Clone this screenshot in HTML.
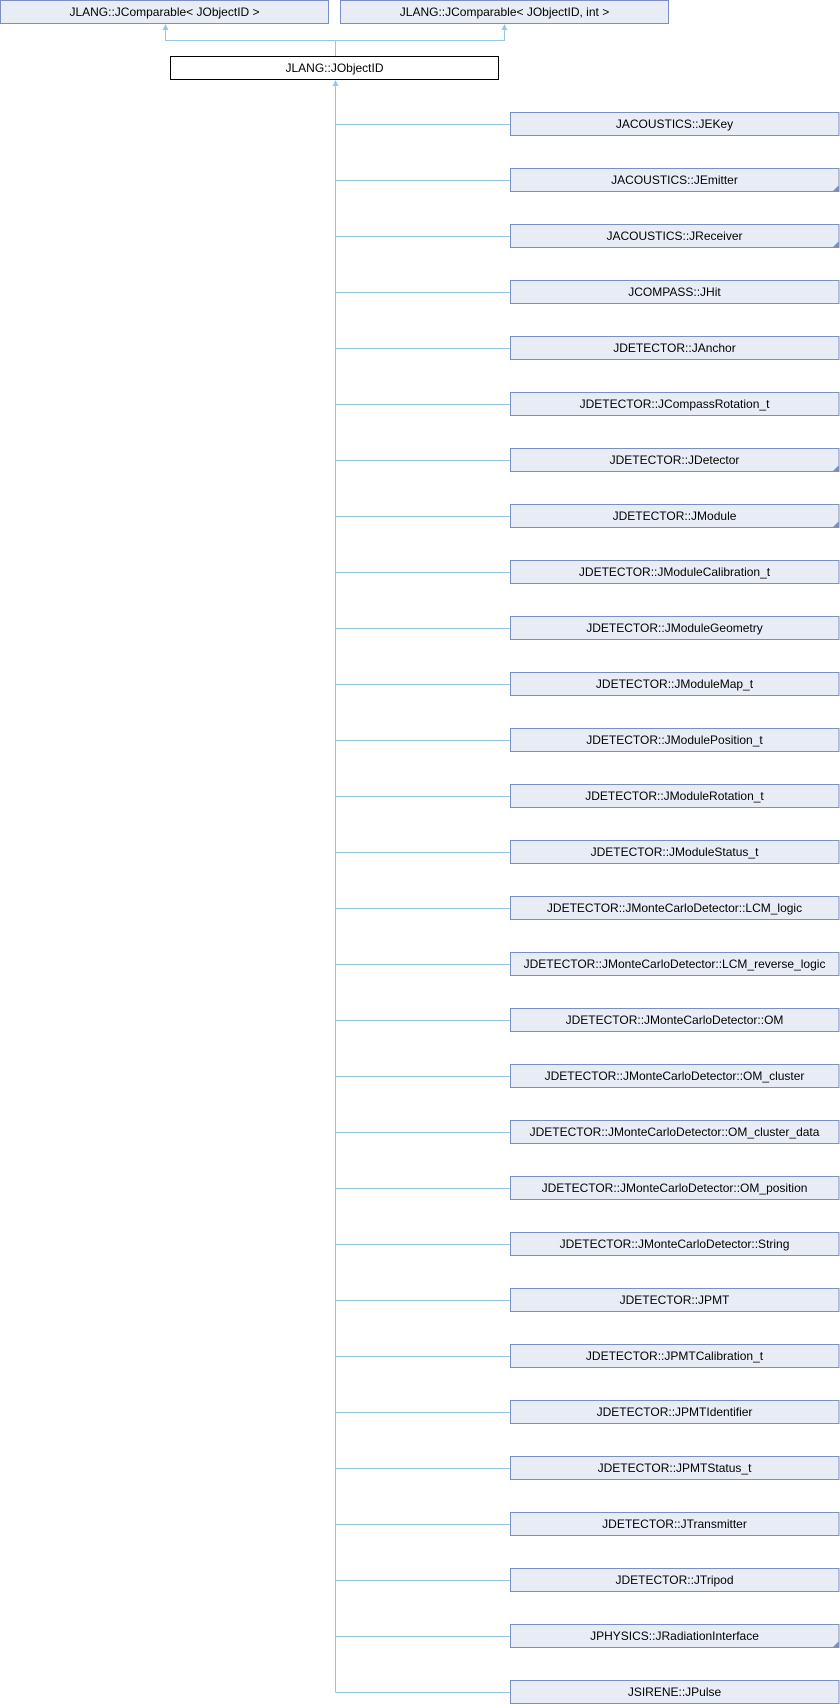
<!DOCTYPE html>
<html><head><meta charset="utf-8"><style>
html,body{margin:0;padding:0;background:#fff;width:840px;height:1704px;overflow:hidden}
svg text{font-family:"Liberation Sans",sans-serif;font-size:12px;fill:#000}
</style></head><body>
<svg width="840" height="1704" xmlns="http://www.w3.org/2000/svg">
<g stroke="#94c8e6" stroke-width="1" fill="none">
<path d="M165.5 25 V40.5 H504.5 V25"/>
<path d="M335.5 40.5 V56"/>
<path d="M335.5 81 V1692.5"/>
</g>
<g fill="#94c8e6">
<polygon points="165.5,24 162.5,30 168.5,30"/>
<polygon points="504.5,24 501.5,30 507.5,30"/>
<polygon points="335.5,80 332.5,86 338.5,86"/>
</g>
<rect x="0.5" y="0.5" width="328" height="23" fill="#e8ecf5" stroke="#7b8fc4"/>
<text x="164.5" y="16" text-anchor="middle">JLANG::JComparable&lt; JObjectID &gt;</text>
<rect x="340.5" y="0.5" width="328" height="23" fill="#e8ecf5" stroke="#7b8fc4"/>
<text x="504.5" y="16" text-anchor="middle">JLANG::JComparable&lt; JObjectID, int &gt;</text>
<rect x="170.5" y="56.5" width="328" height="23" fill="#fff" stroke="#000"/>
<text x="334.5" y="72" text-anchor="middle">JLANG::JObjectID</text>
<g id="kids"></g>
</svg>
<script>
var names=["JACOUSTICS::JEKey","JACOUSTICS::JEmitter*","JACOUSTICS::JReceiver*","JCOMPASS::JHit","JDETECTOR::JAnchor","JDETECTOR::JCompassRotation_t","JDETECTOR::JDetector*","JDETECTOR::JModule*","JDETECTOR::JModuleCalibration_t","JDETECTOR::JModuleGeometry","JDETECTOR::JModuleMap_t","JDETECTOR::JModulePosition_t","JDETECTOR::JModuleRotation_t","JDETECTOR::JModuleStatus_t","JDETECTOR::JMonteCarloDetector::LCM_logic","JDETECTOR::JMonteCarloDetector::LCM_reverse_logic","JDETECTOR::JMonteCarloDetector::OM","JDETECTOR::JMonteCarloDetector::OM_cluster","JDETECTOR::JMonteCarloDetector::OM_cluster_data","JDETECTOR::JMonteCarloDetector::OM_position","JDETECTOR::JMonteCarloDetector::String","JDETECTOR::JPMT","JDETECTOR::JPMTCalibration_t","JDETECTOR::JPMTIdentifier","JDETECTOR::JPMTStatus_t","JDETECTOR::JTransmitter","JDETECTOR::JTripod","JPHYSICS::JRadiationInterface*","JSIRENE::JPulse"];
var s="";
names.forEach(function(n,i){
 var y=112+i*56, more=n.endsWith("*"); n=n.replace("*","");
 s+='<path d="M335.5 '+(y+12.5)+' H510" stroke="#94c8e6" fill="none"/>';
 s+='<rect x="510.5" y="'+(y+0.5)+'" width="328.5" height="23" fill="#e8ecf5" stroke="#7b8fc4"/>';
 if(more) s+='<polygon points="839,'+(y+17)+' 839,'+(y+23)+' 833,'+(y+23)+'" fill="#7b8fc4"/>';
 s+='<text x="674.5" y="'+(y+16)+'" text-anchor="middle">'+n+'</text>';
});
document.getElementById("kids").innerHTML=s;
</script>
</body></html>
